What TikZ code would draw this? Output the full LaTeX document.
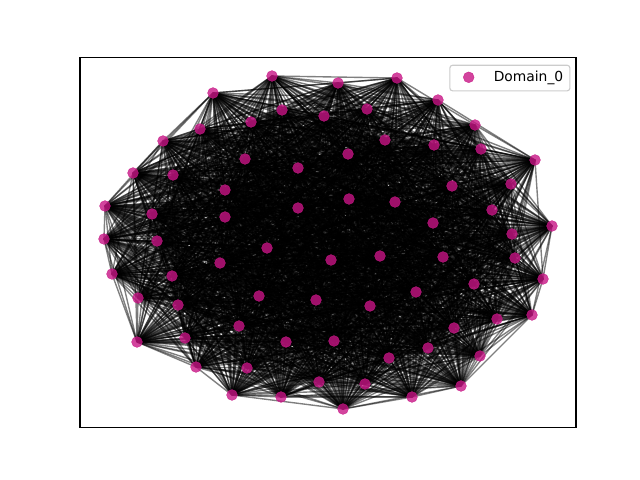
\documentclass[tikz,border=0pt]{standalone}
\usepackage{fontspec}
\setmainfont{DejaVu Sans}
\pgfdeclarelayer{background}
\pgfsetlayers{background,main}
\definecolor{mvr}{RGB}{199,21,133}
\begin{document}
\begin{tikzpicture}[x=0.01in,y=-0.01in,
  dot/.style={circle,fill=mvr,draw=mvr,line width=0.3pt,fill opacity=0.8,draw opacity=0.8,inner sep=0pt,minimum size=7.8pt},
  edge/.style={black,opacity=0.5,line width=1pt},
  frame/.style={black,line width=0.8pt},
  legendbox/.style={draw=black!20,fill=white,fill opacity=0.8,rounded corners=2pt,line width=0.8pt}]
\useasboundingbox (0,0) rectangle (640,480);
\draw[frame] (80,57.6) rectangle (576,427.2);
\foreach \x/\y [count=\k] in {272/76,213/93,282/110,251/122,324/116,200/129,163/141,245/159,298/168,133/173,173/175,225/190,298/208,105/206,152/214,225/217,104/239,157/241,267/248,338/83,397/78,438/100,367/109,475/125,385/140,434/145,481/149,348/154,535/160,511/184,452/186,349/199,395/202,492/210,433/223,552/226,512/234,220/263,112/274,172/276,138/298,259/296,316/300,178/305,239/326,137/342,185/338,286/342,196/367,247/368,319/382,232/395,281/397,331/260,380/256,443/257,515/258,543/279,474/284,416/292,370/306,532/315,497/319,454/328,334/341,428/348,480/356,389/358,365/384,461/386,412/397,343/409}
  \node[dot] (n\k) at (\x,\y) {};
\pgfmathsetseed{7}
\begin{pgfonlayer}{background}
\foreach \i in {1,...,71}{
  \pgfmathtruncatemacro\s{\i+1}
  \foreach \j in {\s,...,72}{
    \pgfmathparse{rnd}
    \ifdim\pgfmathresult pt<0.85pt \draw[edge] (n\i.center) -- (n\j.center);\fi
  }
}
\end{pgfonlayer}
\node[legendbox,minimum width=1.2in,minimum height=0.256in,inner sep=0pt,anchor=north west] (leg) at (449.3,64.7) {};
\node[dot] (legdot) at (468.7,77.3) {};
\node[anchor=west,inner sep=0pt,font=\fontsize{10}{12}\selectfont] (legtext) at (493.5,77.5) {Domain\_0};
\end{tikzpicture}
\end{document}
